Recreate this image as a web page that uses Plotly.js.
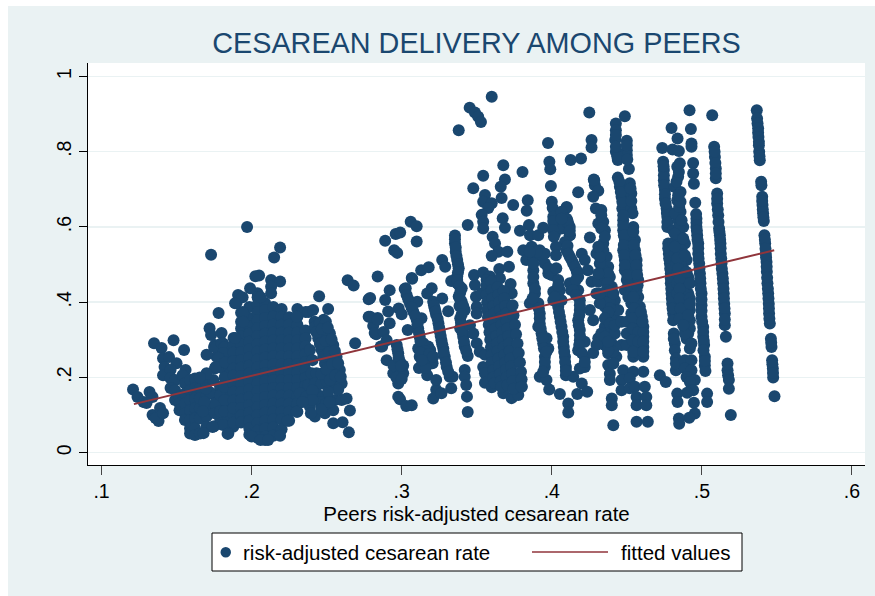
<!DOCTYPE html>
<html><head><meta charset="utf-8">
<script src="https://cdn.plot.ly/plotly-3.0.1.min.js"></script>
<style>html,body{margin:0;padding:0;background:#fff;overflow:hidden}#c{position:absolute;left:8px;top:6px;width:867px;height:590px}</style>
</head><body><div id="c"></div>
<script>
const xTickVals=[.1,.2,.3,.4,.5,.6];
const xTickText=['.1','.2','.3','.4','.5','.6'];
const yTickVals=[0,.2,.4,.6,.8,1];
const yTickText=['0','.2','.4','.6','.8','1'];
const fitX=[.1216,.5482];
const fitY=[.129,.538];

const lowEnd=[[.121,.168],[.124,.148],[.128,.135],[.132,.161],[.134,.148],[.130,.132],[.134,.100],[.138,.084],[.136,.092],[.139,.119],[.141,.105],[.135,.291],[.140,.278],[.148,.299],[.155,.273],[.141,.251],[.145,.254],[.150,.238],[.142,.228],[.141,.206],[.146,.220],[.146,.198],[.149,.193],[.156,.220],[.154,.206],[.146,.172],[.149,.166],[.149,.14],[.152,.149],[.152,.131],[.152,.113],[.1556,.184],[.1556,.157],[.1556,.131],[.1556,.105],[.1556,.087],[.159,.193],[.159,.166],[.159,.14],[.159,.113],[.159,.087],[.159,.065],[.159,.051],[.1623,.197],[.1623,.171],[.1623,.144],[.1623,.118],[.1623,.091],[.1623,.065],[.1623,.047],[.1656,.171],[.1656,.144],[.1656,.118],[.1656,.091],[.1656,.051],[.170,.211],[.170,.184],[.170,.153],[.170,.122],[.170,.096],[.170,.069],[.175,.07],[.1756,.286],[.181,.29],[.1767,.255],[.1822,.26],[.1756,.224],[.181,.224],[.1856,.193],[.1745,.193],[.179,.175],[.1845,.153],[.1756,.153],[.179,.131],[.1845,.122],[.179,.091],[.1845,.091],[.181,.0735],[.1878,.069],[.1845,.051],[.173,.526],[.178,.371],[.172,.331],[.173,.313],[.180,.318],[.170,.260],[.175,.281],[.180,.291],[.182,.281],[.181,.265],[.178,.252],[.176,.228],[.170,.209],[.184,.233],[.186,.212],[.174,.068],[.168,.052],
[.1725,.16],[.1755,.13],[.1755,.105],[.179,.153],[.179,.11],[.182,.2],[.182,.175],[.182,.14],[.182,.11],[.188,.1],[.188,.08],[.1825,.24],[.1685,.135],[.1675,.11],[.1695,.17],[.1655,.2]];

const bulkPeers=[.188,.193,.1985,.204,.209,.2145,.22,.225,.2305,.236];
const bulkRates=[
[.305,.287,.266,.244,.224,.205,.182,.162,.139,.118],
[.372,.348,.33,.309,.288,.267,.246,.226,.204,.183,.161,.141,.119,.099,.08],
[.387,.358,.337,.316,.295,.274,.253,.231,.211,.19,.168,.148,.127,.106,.085,.064,.048],
[.424,.413,.394,.373,.352,.331,.31,.289,.268,.247,.226,.205,.184,.163,.142,.121,.1,.079,.058,.04],
[.398,.379,.358,.337,.316,.295,.274,.253,.232,.211,.19,.169,.148,.127,.106,.085,.064,.043,.034],
[.387,.361,.34,.319,.298,.277,.256,.235,.214,.193,.172,.151,.13,.109,.088,.067,.045],
[.382,.361,.34,.319,.298,.277,.256,.235,.214,.193,.172,.151,.13,.109,.088,.062],
[.36,.34,.319,.298,.277,.256,.235,.214,.193,.172,.151,.13,.109,.085],
[.382,.361,.34,.319,.298,.277,.256,.235,.214,.193,.172,.151,.13,.109],
[.374,.325,.304,.283,.262,.241,.22,.199,.178,.158]];

const bulkEdge=[[.197,.600],[.219,.545],[.215,.519],[.205,.471],[.2025,.469],[.213,.459],[.219,.455],[.213,.441],[.213,.424],[.199,.437],[.191,.419],[.190,.398],[.194,.413],[.206,.413],[.194,.374],[.189,.397],[.1944,.37],[.1944,.348],[.189,.305],[.184,.05],[.200,.043],[.206,.034],[.211,.034],[.219,.045],[.224,.085],[.230,.109],[.230,.361],[.238,.374],[.241,.379],[.245,.416],[.251,.382],[.264,.458],[.268,.444],[.269,.291],[.242,.348],[.248,.353],[.2389,.273],[.2406,.246],[.24,.211],[.2378,.18],[.2322,.158]];

const wideBand=[[.2422,.335],[.2444,.304],[.2466,.273],[.2489,.237],[.251,.206],[.2533,.18],[.2455,.344],[.2482,.313],[.2504,.282],[.2526,.251],[.2548,.22],[.257,.189],[.2495,.348],[.2522,.317],[.2544,.286],[.2566,.255],[.2588,.22],[.26,.184],[.2555,.14],[.26,.14],[.2633,.144],[.2655,.112],[.2544,.078],[.2606,.081],[.2648,.054],[.2489,.105],[.2422,.096],[.2389,.122],[.2433,.158],[.2477,.149],[.2433,.211],[.2422,.184],[.2366,.149],[.2544,.113],[.2577,.167],[.2466,.184],[.251,.162],
[.2405,.165],[.2455,.135],[.2495,.13],[.2405,.14],[.234,.135],[.2465,.115],[.252,.135],[.25,.19],[.2465,.21],[.2395,.105],[.2433,.32],[.2455,.289],[.2477,.255],[.25,.221],[.2522,.193],[.2468,.329],[.2493,.297],[.2515,.266],[.2537,.236],[.2558,.205],[.2508,.332],[.2533,.301],[.2555,.27],[.2577,.238],[.2594,.202]];

const midLeft=[[.284,.468],[.278,.408],[.278,.361],[.281,.337],[.283,.315],[.284,.358],[.286,.282],[.279,.411],[.289,.406],[.292,.432],[.291,.375],[.279,.361],[.284,.353],[.292,.344],[.282,.318],[.288,.321],[.287,.282],[.290,.299],[.290,.246],[.298,.383],[.300,.368],[.306,.614],[.310,.602],[.296,.581],[.299,.585],[.289,.563],[.310,.561],[.295,.538],[.297,.531],[.307,.462],[.313,.485],[.318,.493],[.302,.435],[.327,.512],[.329,.494],[.320,.437],[.317,.423],[.327,.41],[.331,.376],[.304,.326],[.3027,.437],[.3067,.464],
[.321,.401],[.322,.384],[.323,.366],[.3245,.344],[.3255,.321],[.3265,.299],[.3277,.277],[.3287,.255],[.33,.228],[.332,.202],[.334,.202],[.333,.171],[.323,.167],[.321,.144],[.3265,.158],[.317,.206],[.323,.193],[.3206,.2375],[.311,.277],[.3144,.291],[.3177,.282],[.312,.255],[.3166,.255],[.3144,.2375],[.319,.273],[.3033,.419],[.3055,.397],[.3077,.375],[.31,.353],[.311,.33],[.312,.308],[.3132,.357],[.3104,.401],[.2967,.286],[.2977,.264],[.2989,.242],[.3,.22],[.2955,.211],[.2977,.184],[.2944,.211],[.301,.211],[.2977,.149],[.2989,.142],[.303,.124],[.3067,.126],[.3115,.225],[.316,.225],[.2945,.232],[.2965,.2],[.3,.196],[.301,.232],
[.3215,.392],[.3225,.375],[.324,.355],[.325,.332],[.326,.31],[.327,.288],[.328,.266],[.3295,.24],[.331,.215],[.3044,.408],[.3066,.386],[.309,.364],[.3105,.341],[.3115,.319],[.3125,.297],[.2972,.275],[.298,.253],[.2995,.231],[.3155,.27],[.3125,.266],[.3185,.262],[.321,.255],[.3135,.246]];

const col335=[[.3355,.577],[.3355,.556],[.336,.534],[.337,.512],[.338,.49],[.337,.468],[.333,.456],[.337,.45],[.34,.437],[.338,.415],[.34,.401],[.342,.379],[.339,.357],[.339,.331],[.341,.308],[.342,.282],[.344,.257],[.342,.22],[.342,.202],[.343,.18],[.3435,.149],[.344,.108],[.3385,.39],[.3395,.345],[.3405,.32],[.3415,.295],[.343,.27],[.3355,.567],[.336,.545],[.3365,.523],[.3375,.501],[.3375,.479],[.337,.459],[.3385,.443],[.339,.426],[.339,.408],[.341,.39],[.34,.368]];

const col350=[[.3482,.472],[.3543,.479],[.3588,.468],[.3488,.4455],[.3495,.4145],[.35,.388],[.35,.37],[.3533,.4235],[.3566,.459],[.365,.488],[.3715,.494],[.3655,.463],[.3726,.448],[.3733,.4235],[.3606,.574],[.3622,.556],[.3644,.534],[.36,.523],[.3704,.534],[.3455,.339],[.3477,.317],[.35,.291],[.352,.268],[.3555,.26],[.3543,.228],[.3555,.211],[.3555,.186],[.36,.174],[.3677,.158],[.3733,.145],[.3777,.153],[.38,.175]];

const topPoints=[[.3543,.736],[.3677,.764],[.3805,.746],[.3477,.703],[.3688,.726],[.366,.707],[.3555,.685],[.3543,.667],[.36,.663],[.3577,.65],[.3666,.677],[.3743,.658],[.3533,.632],[.3543,.614],[.3543,.596],[.344,.605],[.3673,.623],[.3688,.598],[.384,.671],[.3833,.643],[.3848,.605],[.3855,.578],[.391,.578],[.3943,.598],[.3788,.59],[.36,.946],[.3453,.917],[.3488,.904],[.351,.893],[.3528,.879],[.338,.857],[.425,.904],[.3975,.823],[.4265,.831],[.4265,.811],[.4126,.778],[.4195,.782],[.3984,.773],[.399,.753],[.3994,.709],[.4176,.692],[.428,.726],[.4287,.711],[.4,.667],[.4006,.65],[.401,.627],[.4015,.605],[.4022,.583],[.41,.651],[.4077,.64],[.4103,.618],[.411,.596],[.412,.578]];

const block=[[.3566,.445],[.3566,.42],[.357,.4],[.357,.38],[.3575,.36],[.358,.34],[.3585,.32],[.359,.3],[.3595,.28],[.36,.26],[.36,.24],[.361,.22],[.361,.2],[.362,.185],
[.3595,.455],[.36,.432],[.3605,.41],[.361,.39],[.3615,.37],[.362,.35],[.3625,.33],[.363,.31],[.3635,.29],[.364,.27],[.3645,.25],[.365,.23],[.3655,.21],[.366,.19],[.3665,.175],
[.364,.44],[.3645,.42],[.365,.4],[.3655,.38],[.366,.36],[.3665,.34],[.367,.32],[.3675,.3],[.368,.28],[.3685,.26],[.369,.24],[.3695,.22],[.37,.2],[.3705,.18],
[.368,.43],[.3685,.41],[.369,.39],[.3695,.37],[.37,.35],[.3705,.33],[.371,.31],[.3715,.29],[.372,.27],[.3725,.25],[.373,.23],[.3735,.21],[.374,.19],[.3745,.17],
[.3739,.392],[.3745,.365],[.3755,.34],[.3762,.315],[.3772,.29],[.378,.265],[.3788,.24],[.3795,.215],[.3799,.195],[.3799,.175]];

const colA=[[.381,.538],[.3866,.547],[.392,.538],[.383,.512],[.3877,.521],[.3932,.521],[.3877,.485],[.3954,.503],[.3977,.476],[.3877,.45],[.3888,.423],[.3854,.397],[.391,.397],[.392,.37],[.392,.343],[.3932,.317],[.3943,.29],[.3977,.277],[.3954,.255],[.3954,.228],[.392,.202],[.3965,.193],[.3983,.168],[.3965,.304],[.391,.335],
[.3888,.436],[.3877,.467],[.3877,.503],[.3872,.41],[.3914,.383],[.392,.357],[.3926,.33],[.3937,.304],[.3948,.277],[.3954,.241],[.3943,.215],[.3954,.529],[.3977,.49],[.39,.534],[.3854,.534],[.3965,.268]];

const colB=[[.4,.472],[.403,.49],[.4043,.459],[.401,.428],[.4054,.432],[.4043,.388],[.4054,.361],[.4065,.335],[.4076,.308],[.408,.281],[.4088,.255],[.4094,.228],[.4094,.206],[.4143,.202],[.42,.184],[.4054,.156],[.411,.131],[.411,.107],[.417,.156],[.4236,.162],[.401,.405],[.4065,.405],
[.4043,.445],[.4043,.414],[.4048,.374],[.4059,.348],[.407,.321],[.4076,.295],[.4083,.268],[.4089,.241],[.4094,.218],[.402,.414]];

const colC=[[.4099,.653],[.4065,.64],[.4099,.622],[.412,.6],[.412,.578],[.4065,.596],[.4088,.56],[.4099,.538],[.412,.521],[.4143,.503],[.4165,.485],[.4176,.467],[.4143,.45],[.413,.432],[.4176,.432],[.4187,.405],[.4187,.379],[.4176,.352],[.4187,.326],[.4187,.299],[.4176,.272],[.422,.255],[.422,.228],[.4187,.224],[.422,.295],[.412,.45],[.4028,.547],[.4028,.525],[.42,.529],[.422,.512],[.424,.485],[.4265,.454],[.4254,.379],[.4276,.352],[.4283,.724],[.431,.696],[.4276,.68],
[.411,.609],[.412,.59],[.4105,.55],[.411,.529],[.4132,.512],[.4154,.494],[.417,.476],[.4161,.459],[.4143,.432],[.4161,.419],[.4187,.392],[.4183,.365],[.418,.339],[.4187,.312],[.4183,.286],[.42,.265],[.422,.241],[.401,.616],[.401,.591],[.4065,.622],[.4014,.574]];

const colD=[[.4294,.649],[.433,.645],[.431,.609],[.4343,.614],[.4354,.591],[.4254,.572],[.4343,.556],[.4298,.529],[.4365,.521],[.4376,.494],[.4343,.485],[.4387,.467],[.44,.441],[.4354,.414],[.442,.405],[.4354,.388],[.4365,.361],[.441,.37],[.4354,.335],[.443,.352],[.44,.326],[.431,.304],[.4354,.286],[.44,.29],[.443,.255],[.4276,.265],[.4376,.233],[.4387,.21],[.4387,.193],[.44,.144],[.44,.126],[.441,.073],[.432,.503],[.431,.454],[.4298,.423],[.4387,.405],[.4443,.379],[.433,.299],[.4376,.264],[.441,.268],
[.433,.631],[.433,.596],[.4354,.574],[.4343,.538],[.4354,.467],[.4376,.476],[.437,.45],[.4365,.432],[.4387,.428],[.441,.423],[.4387,.383],[.4376,.374],[.4354,.357],[.4387,.343],[.4365,.317],[.442,.317],[.442,.339],[.433,.317],[.4376,.272],[.441,.237],[.4354,.308],[.4376,.295],[.4298,.286],[.432,.397],[.432,.423],[.431,.476],[.432,.521],[.431,.547]];

const colE=[[.4427,.875],[.4427,.857],[.4487,.894],[.4423,.831],[.45,.829],[.45,.804],[.4427,.8],[.444,.778],[.45,.791],[.4514,.754],[.444,.731],[.4454,.707],[.4465,.68],[.452,.716],[.453,.689],[.447,.649],[.453,.649],[.4538,.636],[.4476,.618],[.4476,.591],[.4543,.6],[.4487,.565],[.4554,.565],[.4476,.538],[.4554,.538],[.4487,.512],[.4565,.512],[.4487,.485],[.4565,.485],[.452,.459],[.4576,.459],[.453,.432],[.4576,.414],[.453,.397],[.4587,.388],[.453,.37],[.46,.361],[.4543,.343],[.461,.335],[.453,.317],[.461,.308],[.4543,.281],[.461,.281],[.4543,.255],[.461,.255],[.4465,.348],[.45,.317],[.4465,.286],[.452,.485],[.452,.512],[.452,.538],[.452,.565],[.452,.591],[.45,.459],[.4487,.432],[.4565,.432],[.4565,.37],[.4576,.335],[.4576,.308],[.4576,.277],[.4565,.397],[.45,.286],[.45,.348],[.4476,.219],[.4543,.215],[.461,.215],[.4465,.193],[.452,.197],[.4465,.166],[.452,.171],[.4554,.175],[.462,.175],[.4565,.148],[.463,.148],[.4565,.126],[.463,.126],[.4565,.082],[.464,.082],
[.4476,.605],[.448,.578],[.448,.552],[.4483,.525],[.4487,.498],[.4503,.472],[.451,.445],[.451,.414],[.4543,.587],[.4547,.552],[.4558,.525],[.4565,.498],[.4569,.472],[.4572,.445],[.4543,.414],[.455,.383],[.4565,.357],[.4543,.357],[.4538,.33],[.4576,.321],[.4538,.299],[.4576,.295],[.4576,.264],[.4543,.268],[.461,.321],[.461,.295],[.461,.268],[.4594,.374],[.4605,.348],[.447,.667],[.445,.72],[.446,.693],[.4525,.702],[.4476,.631],[.453,.669],[.4436,.788],[.4427,.844],[.4427,.813],[.45,.817],[.4503,.779]];

const colF=[[.4736,.81],[.4798,.863],[.4838,.835],[.4805,.806],[.4847,.802],[.4742,.773],[.4747,.751],[.4747,.724],[.4754,.698],[.4754,.675],[.4765,.649],[.477,.627],[.477,.6],[.4776,.556],[.478,.529],[.4787,.503],[.4793,.476],[.4793,.45],[.4798,.423],[.4802,.396],[.4809,.37],[.4809,.352],[.4813,.317],[.482,.29],[.482,.272],[.4827,.25],[.4827,.219],
[.4767,.637],[.477,.613],[.4776,.543],[.4782,.516],[.4789,.489],[.4793,.463],[.4796,.436],[.48,.41],[.4805,.383],[.4813,.303],[.4747,.737],[.4749,.711],[.4754,.687],[.4758,.662],[.4745,.761],[.4827,.237]];

const colG=[[.4836,.76],[.4842,.733],[.482,.706],[.4858,.693],[.4836,.671],[.4858,.64],[.4842,.618],[.4876,.6],[.4853,.578],[.4887,.556],[.4865,.538],[.4898,.512],[.4876,.489],[.4909,.467],[.4876,.445],[.4909,.423],[.4876,.396],[.492,.379],[.4876,.37],[.492,.352],[.4887,.33],[.492,.33],[.4898,.303],[.492,.277],[.4809,.556],[.482,.529],[.4827,.503],[.4836,.476],[.4836,.45],[.4836,.423],[.4853,.529],[.4858,.503],[.4809,.591],[.482,.636],[.4898,.379],[.4898,.45],[.4887,.423],[.4865,.467],[.4918,.91],[.4927,.86],[.4931,.822],[.4931,.813],[.4942,.77],[.4942,.742],[.4947,.715],[.4956,.664],
[.4849,.6],[.4865,.618],[.4849,.653],[.4836,.574],[.482,.547],[.4836,.516],[.4842,.489],[.4853,.463],[.4853,.436],[.4853,.41],[.4858,.383],[.4853,.356],[.482,.582],[.4876,.569],[.4887,.525],[.4898,.48],[.492,.45],[.492,.41],[.492,.396],[.4909,.365],[.4909,.317],[.4887,.317],[.4876,.339],[.4931,.29],[.4858,.667],[.4842,.684],[.4831,.72],[.4847,.746],[.4853,.769]];

const colH=[[.4964,.622],[.4964,.6],[.4969,.578],[.4976,.556],[.4976,.529],[.4982,.503],[.4987,.476],[.4991,.45],[.4998,.423],[.4998,.392],[.4998,.361],[.5009,.334],[.5009,.308],[.5015,.286],[.502,.255],[.502,.232],[.5024,.217],[.4887,.246],[.4931,.246],[.4887,.224],[.4931,.219],[.4898,.201],[.4953,.193],[.492,.188],[.4942,.166],[.4902,.159],[.4947,.133],[.5035,.157],[.5035,.135],[.4836,.157],[.4838,.135],[.4953,.104],[.4916,.093],[.4847,.091],[.4849,.077],[.472,.206],[.476,.188],[.5069,.897],
[.4964,.611],[.4967,.59],[.4971,.566],[.4976,.543],[.4978,.516],[.4984,.489],[.4989,.463],[.4993,.436],[.4998,.407],[.4998,.377],[.5002,.348],[.5009,.321],[.5013,.297],[.5011,.272],[.4962,.634],[.502,.244]];

const colI=[[.5082,.813],[.5087,.786],[.5093,.755],[.5093,.729],[.5102,.689],[.5102,.662],[.5109,.631],[.5115,.596],[.512,.578],[.5124,.556],[.5126,.529],[.5131,.503],[.5137,.476],[.5142,.45],[.5146,.423],[.5149,.396],[.5153,.37],[.5153,.339],[.516,.308],[.5171,.237],[.5171,.219],[.5175,.206],[.518,.193],[.518,.17],[.5193,.1],
[.5085,.8],[.509,.77],[.5093,.742],[.5102,.675],[.5106,.646],[.5111,.613],[.5117,.587],[.5122,.566],[.5125,.543],[.5129,.516],[.5133,.489],[.514,.463],[.5144,.436],[.5147,.41],[.5151,.383],[.5153,.354]];

const colJ=[[.5366,.91],[.5368,.888],[.5371,.875],[.5375,.862],[.5375,.85],[.5377,.839],[.538,.826],[.538,.817],[.5382,.8],[.5386,.777],[.5395,.72],[.5397,.711],[.5402,.68],[.5404,.658],[.5408,.636],[.5413,.616],[.5417,.578],[.5422,.556],[.5426,.529],[.5431,.507],[.5433,.481],[.5437,.45],[.5442,.423],[.5446,.396],[.5448,.37],[.5453,.343],[.546,.303],[.5464,.281],[.5468,.246],[.5473,.224],[.5475,.2],[.5484,.15],
[.5384,.788],[.5406,.646],[.541,.626],[.542,.566],[.5424,.542],[.5428,.519],[.5432,.494],[.5435,.465],[.544,.436],[.5444,.41],[.5447,.383],[.545,.356],[.5462,.292],[.547,.235],[.5474,.212],[.5402,.669]];

const navy='#1A476F', maroon='#90353B', pale='#EAF2F3';
const font='"Liberation Sans", Arial, sans-serif';
const bulkPairs=[];
bulkPeers.forEach((p,i)=>bulkRates[i].forEach(r=>bulkPairs.push([p,r])));
const all=[].concat(lowEnd,bulkPairs,bulkEdge,wideBand,midLeft,col335,col350,topPoints,block,colA,colB,colC,colD,colE,colF,colG,colH,colI,colJ);

const L=88,R=865,T=63,B=465;
const px=v=>(v-L)/(R-L), py=v=>(B-v)/(B-T);
Plotly.newPlot('c',[
 {type:'scatter',mode:'markers',x:all.map(p=>p[0]),y:all.map(p=>p[1]),name:'risk-adjusted cesarean rate',showlegend:false,hoverinfo:'skip',marker:{color:navy,size:12,line:{width:0}}},
 {type:'scatter',mode:'lines',x:fitX,y:fitY,name:'fitted values',showlegend:false,hoverinfo:'skip',line:{color:maroon,width:2}}
],{
 width:867,height:590,autosize:false,
 paper_bgcolor:pale,plot_bgcolor:'#fff',
 margin:{l:80,r:10,t:57,b:131,pad:0},
 font:{family:font,size:20,color:'#000'},
 title:{text:'CESAREAN DELIVERY AMONG PEERS',font:{family:font,size:28.8,color:navy},x:.5,xref:'paper',xanchor:'center',y:1-37/590,yref:'container',yanchor:'middle'},
 xaxis:{range:[.091,.6087],tickmode:'array',tickvals:xTickVals,ticktext:xTickText,ticks:'outside',ticklen:9,tickcolor:'#444',tickwidth:1,showline:true,linecolor:'#000',linewidth:1,showgrid:false,zeroline:false,tickfont:{size:19.5},
   title:{text:'Peers risk-adjusted cesarean rate',font:{size:20.5},standoff:2}},
 yaxis:{range:[-.0327,1.0356],tickmode:'array',tickvals:yTickVals,ticktext:yTickText,ticks:'outside',ticklen:8,tickcolor:'#000',tickwidth:1,showline:true,linecolor:'#000',linewidth:1,showgrid:true,gridcolor:pale,gridwidth:1.5,zeroline:false,tickangle:-90,tickfont:{size:19.5}},
 showlegend:false,
 shapes:[
  {type:'rect',xref:'paper',yref:'paper',x0:px(212),x1:px(742),y0:py(533),y1:py(571),fillcolor:'#fff',line:{color:'#000',width:1}},
  {type:'circle',xref:'paper',yref:'paper',x0:px(220.5),x1:px(231),y0:py(547),y1:py(557.5),fillcolor:navy,line:{width:0}},
  {type:'line',xref:'paper',yref:'paper',x0:px(532),x1:px(608),y0:py(552),y1:py(552),line:{color:maroon,width:1.5}}
 ],
 annotations:[
  {xref:'paper',yref:'paper',x:px(242),y:py(552),xanchor:'left',yanchor:'middle',showarrow:false,text:'risk-adjusted cesarean rate',font:{size:20.5},borderpad:0},
  {xref:'paper',yref:'paper',x:px(620),y:py(552),xanchor:'left',yanchor:'middle',showarrow:false,text:'fitted values',font:{size:20.5},borderpad:0}
 ]
},{displayModeBar:false,staticPlot:true});
</script></body></html>
